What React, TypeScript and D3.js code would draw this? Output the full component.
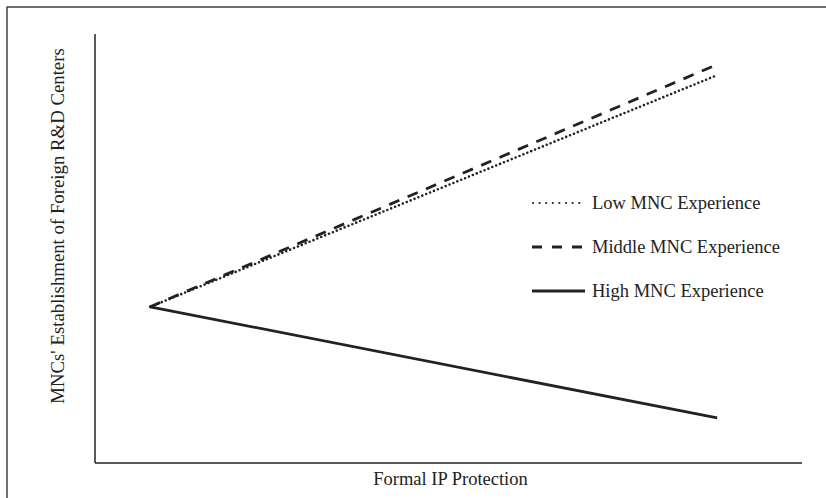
import { FC, useEffect, useRef } from 'react';
import * as d3 from 'd3';

// x: formal IP protection (low -> high), y: establishment of foreign R&D centers
const xValues = [0.78, 8.8];
const series = ['Low MNC Experience', 'Middle MNC Experience', 'High MNC Experience'];
const lowValues = [3.64, 9.04];
const middleValues = [3.64, 9.29];
const highValues = [3.64, 1.05];
const xTitle = 'Formal IP Protection';
const yTitle = "MNCs' Establishment of Foreign R&D Centers";

const W = 826;
const H = 498;
const FONT = '"Liberation Serif", "Times New Roman", serif';

const App: FC = () => {
  const svgRef = useRef<SVGSVGElement>(null);

  useEffect(() => {
    if (!svgRef.current) return;
    const svg = d3.select(svgRef.current);
    svg.selectAll('*').remove();

    const left = 95;
    const right = 802;
    const top = 34;
    const bottom = 463;

    const x = d3.scaleLinear().domain([0, 10]).range([left, right]);
    const y = d3.scaleLinear().domain([0, 10]).range([bottom, top]);

    // frame (cut off at right/bottom like the source)
    svg.append('rect')
        .attr('x', 7)
        .attr('y', 7)
        .attr('width', 840)
        .attr('height', 520)
        .attr('fill', 'none')
        .attr('stroke', '#333')
        .attr('stroke-width', 1.4);

    // axes, no ticks
    svg.append('line')
        .attr('x1', left).attr('y1', top)
        .attr('x2', left).attr('y2', bottom)
        .attr('stroke', '#222').attr('stroke-width', 1.5);
    svg.append('line')
        .attr('x1', left).attr('y1', bottom)
        .attr('x2', right).attr('y2', bottom)
        .attr('stroke', '#222').attr('stroke-width', 1.5);

    const styles = [
      { values: lowValues, dash: '0,4.2', width: 2.6, cap: 'round', legendDash: '0,6.6', legendWidth: 2.2 },
      { values: middleValues, dash: '11,9', width: 2.8, cap: 'butt', legendDash: '10,10', legendWidth: 2.8 },
      { values: highValues, dash: null, width: 2.8, cap: 'butt', legendDash: null, legendWidth: 2.8 }
    ];

    const line = d3.line<number>()
        .x((_, i) => x(xValues[i]))
        .y(d => y(d));

    styles.forEach(s => {
      svg.append('path')
          .datum(s.values)
          .attr('d', line)
          .attr('fill', 'none')
          .attr('stroke', '#222')
          .attr('stroke-width', s.width)
          .attr('stroke-linecap', s.cap)
          .attr('stroke-dasharray', s.dash);
    });

    // legend
    const legend = svg.append('g').attr('transform', 'translate(532,203)');
    series.forEach((name, i) => {
      const s = styles[i];
      const g = legend.append('g').attr('transform', `translate(0,${i * 44})`);
      g.append('line')
          .attr('x1', s.cap === 'round' ? 1 : 0).attr('x2', 53)
          .attr('y1', 0).attr('y2', 0)
          .attr('stroke', '#222')
          .attr('stroke-width', s.legendWidth)
          .attr('stroke-linecap', s.cap)
          .attr('stroke-dasharray', s.legendDash);
      g.append('text')
          .attr('x', 60)
          .attr('y', 5.5)
          .attr('font-family', FONT)
          .attr('font-size', 18.5)
          .attr('fill', '#222')
          .text(name);
    });

    // axis titles
    svg.append('text')
        .attr('x', (left + right) / 2 + 2)
        .attr('y', 485)
        .attr('text-anchor', 'middle')
        .attr('font-family', FONT)
        .attr('font-size', 18.5)
        .attr('fill', '#222')
        .text(xTitle);

    svg.append('text')
        .attr('transform', 'translate(63.5,226) rotate(-90)')
        .attr('text-anchor', 'middle')
        .attr('font-family', FONT)
        .attr('font-size', 18.8)
        .attr('fill', '#222')
        .text(yTitle);
  }, []);

  return (
      <svg
          ref={svgRef}
          width={W}
          height={H}
          style={{ position: 'absolute', left: 0, top: 0, background: '#fff' }}
      />
  );
};

export default App;
